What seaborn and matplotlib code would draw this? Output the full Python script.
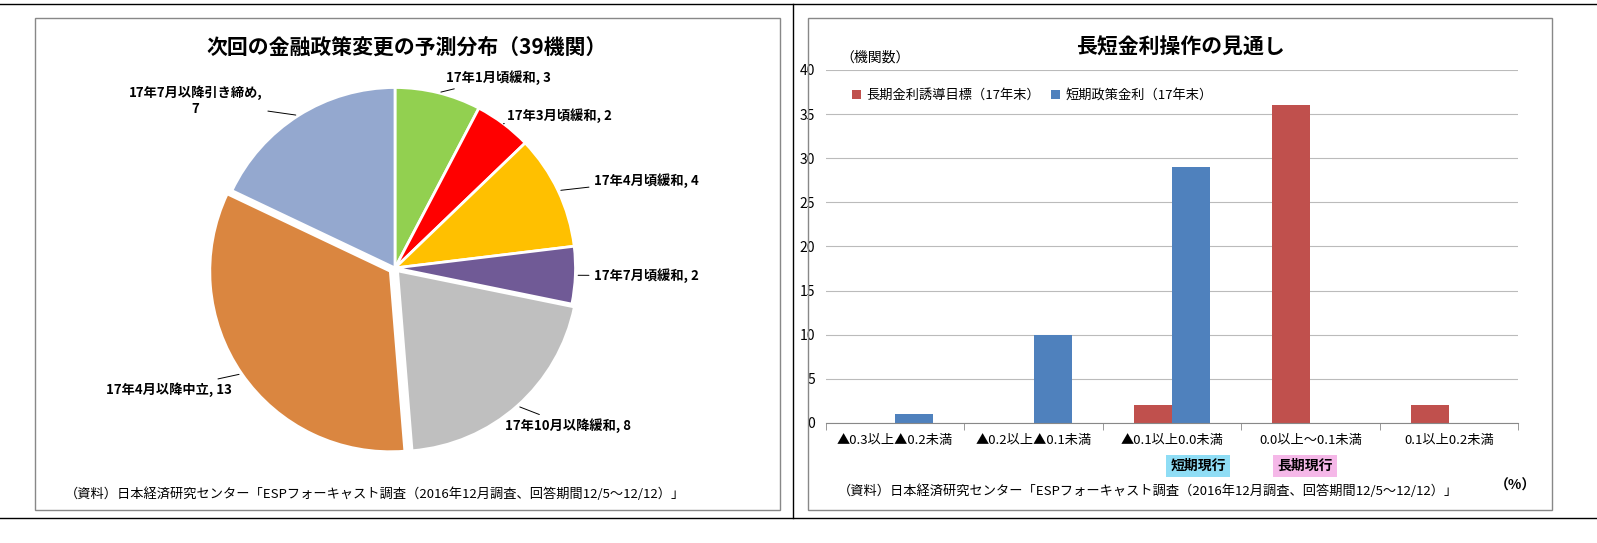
import numpy as np
import matplotlib.pyplot as plt
import seaborn as sns
import pandas as pd
from matplotlib.patches import Rectangle

plt.rcParams["font.family"] = "Noto Sans CJK JP"

# pie data
pie_labels = ["17年1月頃緩和", "17年3月頃緩和", "17年4月頃緩和", "17年7月頃緩和",
              "17年10月以降緩和", "17年4月以降中立", "17年7月以降引き締め"]
pie_values = [3, 2, 4, 2, 8, 13, 7]
pie_colors = ["#92D050", "#FF0000", "#FFC000", "#705A96", "#BFBFBF", "#DA8640", "#94A8CF"]

# bar data
bar_cats = ["▲0.3以上▲0.2未満", "▲0.2以上▲0.1未満", "▲0.1以上0.0未満", "0.0以上～0.1未満", "0.1以上0.2未満"]
long_vals = [0, 0, 2, 36, 2]
short_vals = [1, 10, 29, 0, 0]
series_names = ["長期金利誘導目標（17年末）", "短期政策金利（17年末）"]

fig = plt.figure(figsize=(15.97, 5.43), dpi=100)
W, H = 1597, 543

def fx(x): return x / W
def fy(y): return 1 - y / H

# frames
fig.add_artist(plt.Line2D([0, 1], [fy(4), fy(4)], color="black", lw=1))
fig.add_artist(plt.Line2D([0, 1], [fy(518), fy(518)], color="black", lw=1))
fig.add_artist(plt.Line2D([fx(793), fx(793)], [fy(4), fy(518)], color="black", lw=1))
for x0, x1 in [(35, 780), (808, 1552)]:
    fig.add_artist(Rectangle((fx(x0), fy(510)), fx(x1 - x0), (510 - 18) / H,
                             fill=False, ec="#888888", lw=1))

# pie
axp = fig.add_axes([fx(395 - 190), fy(268 + 190), 380 / W, 380 / H])
explode = [0, 0, 0, 0, 0.02, 0.03, 0]
wedges, _ = axp.pie(pie_values, colors=pie_colors, startangle=90, counterclock=False,
                    radius=0.95, explode=explode, wedgeprops=dict(ec="white", lw=2))
axp.set_xlim(-1, 1); axp.set_ylim(-1, 1); axp.axis("off")
label_pos = [(0.27, 1.0), (0.59, 0.8), (1.05, 0.46), (1.05, -0.04), (0.58, -0.83),
             (-0.86, -0.64), (-1.05, 0.88)]
for w, lab, v, pos in zip(wedges, pie_labels, pie_values, label_pos):
    ang = np.deg2rad((w.theta1 + w.theta2) / 2)
    r = w.r
    xe, ye = r * np.cos(ang) + w.center[0], r * np.sin(ang) + w.center[1]
    ha = "left" if pos[0] > 0 else "right"
    txt = f"{lab}, {v}"
    if v == 7:
        txt = f"{lab},\n{v}"
        ha = "center"
    axp.annotate(txt, xy=(xe, ye), xytext=pos, ha=ha, va="center", fontsize=9.5,
                 fontweight="bold", annotation_clip=False,
                 arrowprops=dict(arrowstyle="-", color="black", lw=0.7))
fig.text(fx(407), fy(47), "次回の金融政策変更の予測分布（39機関）", ha="center", va="center",
         fontsize=15, fontweight="bold")
fig.text(fx(65), fy(494), "（資料）日本経済研究センター「ESPフォーキャスト調査（2016年12月調査、回答期間12/5～12/12）」",
         ha="left", va="center", fontsize=9.5)

# bars
df = pd.DataFrame({"cat": bar_cats * 2, "val": long_vals + short_vals,
                   "series": [series_names[0]] * 5 + [series_names[1]] * 5})
axb = fig.add_axes([fx(826), fy(423), 692 / W, (423 - 70) / H])
sns.barplot(data=df, x="cat", y="val", hue="series", palette=["#C0504D", "#4F81BD"],
            width=0.55, ax=axb, saturation=1)
axb.set_ylim(0, 40)
axb.set_yticks(range(0, 41, 5))
axb.set_xlim(-0.5, 4.5)
axb.yaxis.grid(True, color="#BBBBBB", lw=0.8)
axb.set_axisbelow(True)
axb.set_xlabel(""); axb.set_ylabel("")
for s in ["top", "right", "left"]:
    axb.spines[s].set_visible(False)
axb.spines["bottom"].set_color("#888888")
axb.tick_params(axis="y", length=0, labelsize=10, pad=8)
axb.tick_params(axis="x", labelsize=9.5, length=0, pad=8)
axb.set_xticks(np.arange(-0.5, 5, 1), minor=True)
axb.tick_params(axis="x", which="minor", length=5, color="#888888")
axb.legend(loc="upper left", bbox_to_anchor=(0.02, 0.98), ncol=2, frameon=False,
           fontsize=9.5, handlelength=0.7, columnspacing=0.8, handletextpad=0.4)
fig.text(fx(1180), fy(47), "長短金利操作の見通し", ha="center", va="center",
         fontsize=15, fontweight="bold")
fig.text(fx(840), fy(58), "（機関数）", ha="left", va="center", fontsize=10)
fig.text(fx(1198), fy(466), "短期現行", ha="center", va="center", fontsize=10, fontweight="bold",
         bbox=dict(boxstyle="square,pad=0.3", fc="#8FDDF5", ec="none"))
fig.text(fx(1305), fy(466), "長期現行", ha="center", va="center", fontsize=10, fontweight="bold",
         bbox=dict(boxstyle="square,pad=0.3", fc="#F5B8E8", ec="none"))
fig.text(fx(838), fy(491), "（資料）日本経済研究センター「ESPフォーキャスト調査（2016年12月調査、回答期間12/5～12/12）」",
         ha="left", va="center", fontsize=9.5)
fig.text(fx(1515), fy(486), "（%）", ha="center", va="center", fontsize=10, fontweight="bold")

fig.savefig("out.png", dpi=100)
